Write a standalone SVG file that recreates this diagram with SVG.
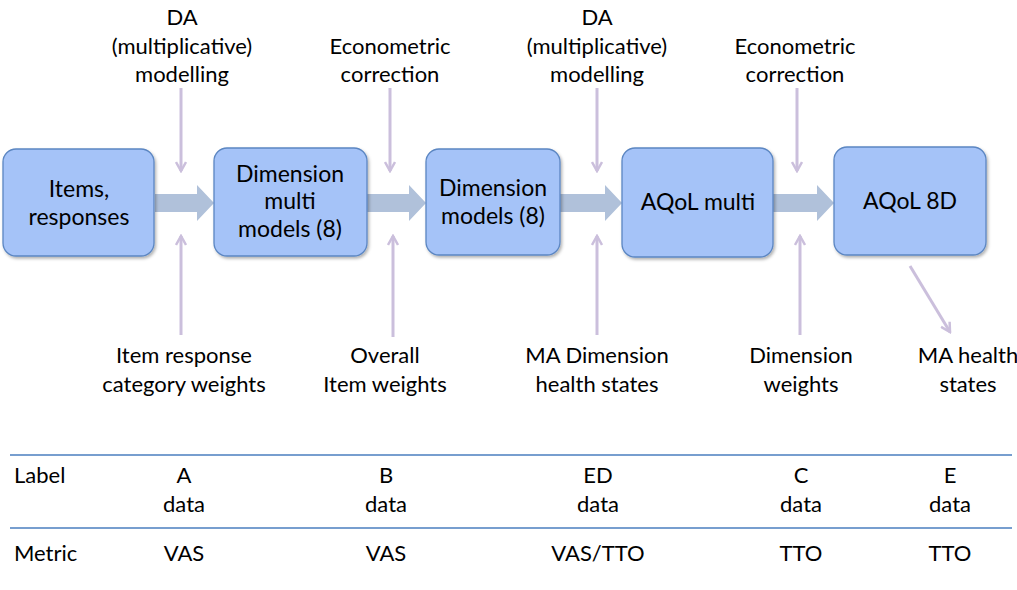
<svg xmlns="http://www.w3.org/2000/svg" width="1017" height="590" viewBox="0 0 1017 590">
<style>
text{font-family:"Lato","Open Sans","Liberation Sans",sans-serif;font-size:22px;fill:#000;text-anchor:middle}
.bt{font-size:23px}
.box{fill:#a5c3f8;stroke:#5b86c2;stroke-width:1.3}
.blk{fill:#b0c1da}
.thin{stroke:#cbbfdc;stroke-width:3;fill:none}
.rule{stroke:#4a7ebf;stroke-width:1.3}
.l{text-anchor:start}
</style>
<defs>
<filter id="sh" x="-10%" y="-10%" width="130%" height="130%">
<feDropShadow dx="1.5" dy="2" stdDeviation="1.5" flood-color="#000" flood-opacity="0.3"/>
</filter>
<marker id="ah" viewBox="0 0 12 12" refX="10" refY="6" markerWidth="12" markerHeight="12" markerUnits="userSpaceOnUse" orient="auto">
<path d="M1,1 L10,6 L1,11" fill="none" stroke="#cbbfdc" stroke-width="2.5"/>
</marker>
</defs>
<g id="connectors">
<path class="blk" d="M155,194 H197 V185 L214,203 L197,221 V212 H155 Z"/>
<path class="blk" d="M367,194 H409 V185 L426,203 L409,221 V212 H367 Z"/>
<path class="blk" d="M560,194 H605 V185 L622,203 L605,221 V212 H560 Z"/>
<path class="blk" d="M773,194 H817 V185 L834,203 L817,221 V212 H773 Z"/>
<line class="thin" x1="181" y1="88" x2="181" y2="171" marker-end="url(#ah)"/>
<line class="thin" x1="181" y1="335" x2="181" y2="236" marker-end="url(#ah)"/>
<line class="thin" x1="390" y1="88" x2="390" y2="171" marker-end="url(#ah)"/>
<line class="thin" x1="393" y1="337" x2="393" y2="236" marker-end="url(#ah)"/>
<line class="thin" x1="597" y1="88" x2="597" y2="171" marker-end="url(#ah)"/>
<line class="thin" x1="597" y1="335" x2="597" y2="236" marker-end="url(#ah)"/>
<line class="thin" x1="797" y1="88" x2="797" y2="171" marker-end="url(#ah)"/>
<line class="thin" x1="800" y1="335" x2="800" y2="236" marker-end="url(#ah)"/>
<line class="thin" x1="910" y1="266" x2="950" y2="332" marker-end="url(#ah)"/>
</g>
<g id="n1"><rect class="box" filter="url(#sh)" x="3" y="149" width="151" height="107" rx="13"/>
<text class="bt" x="79" y="197">Items,</text><text class="bt" x="79" y="225">responses</text></g>
<g id="n2"><rect class="box" filter="url(#sh)" x="214" y="148" width="153" height="108" rx="13"/>
<text class="bt" x="290" y="182">Dimension</text><text class="bt" x="290" y="209">multi</text><text class="bt" x="290" y="237">models (8)</text></g>
<g id="n3"><rect class="box" filter="url(#sh)" x="426" y="149" width="134" height="106" rx="13"/>
<text class="bt" x="493" y="196">Dimension</text><text class="bt" x="493" y="224">models (8)</text></g>
<g id="n4"><rect class="box" filter="url(#sh)" x="622" y="148" width="151" height="109" rx="13"/>
<text class="bt" x="698" y="210">AQoL multi</text></g>
<g id="n5"><rect class="box" filter="url(#sh)" x="834" y="147" width="152" height="108" rx="13"/>
<text class="bt" x="910" y="209">AQoL 8D</text></g>
<g id="top-labels">
<text x="182" y="25">DA</text><text x="182" y="54">(multiplicative)</text><text x="182" y="82">modelling</text>
<text x="390" y="54">Econometric</text><text x="390" y="82">correction</text>
<text x="597" y="25">DA</text><text x="597" y="54">(multiplicative)</text><text x="597" y="82">modelling</text>
<text x="795" y="54">Econometric</text><text x="795" y="82">correction</text>
</g>
<g id="bottom-labels">
<text x="184" y="363">Item response</text><text x="184" y="392">category weights</text>
<text x="385" y="363">Overall</text><text x="385" y="392">Item weights</text>
<text x="597" y="363">MA Dimension</text><text x="597" y="392">health states</text>
<text x="801" y="363">Dimension</text><text x="801" y="392">weights</text>
<text x="968" y="363">MA health</text><text x="968" y="392">states</text>
</g>
<g id="table">
<line class="rule" x1="10" y1="455" x2="1012" y2="455"/>
<line class="rule" x1="10" y1="528" x2="1012" y2="528"/>
<text class="l" x="14" y="483">Label</text>
<text x="184" y="483">A</text><text x="184" y="512">data</text>
<text x="386" y="483">B</text><text x="386" y="512">data</text>
<text x="598" y="483">ED</text><text x="598" y="512">data</text>
<text x="801" y="483">C</text><text x="801" y="512">data</text>
<text x="950" y="483">E</text><text x="950" y="512">data</text>
<text class="l" x="14" y="561">Metric</text>
<text x="184" y="561">VAS</text><text x="386" y="561">VAS</text><text x="598" y="561">VAS/TTO</text>
<text x="801" y="561">TTO</text><text x="950" y="561">TTO</text>
</g>
</svg>
